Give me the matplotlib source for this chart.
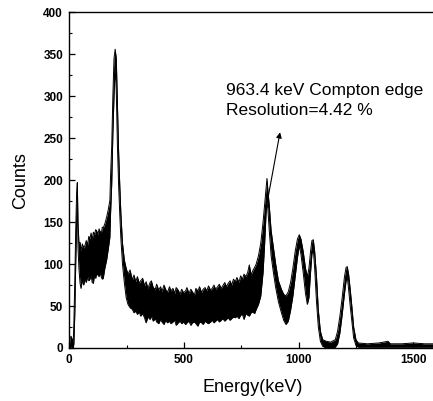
import matplotlib
matplotlib.use("Agg")
matplotlib.rcParams.update({
    'font.family': ['Liberation Sans', 'DejaVu Sans'],
    'xtick.direction': 'in',
    'ytick.direction': 'in',
})
import matplotlib.pyplot as plt
from matplotlib.ticker import MultipleLocator

# Gamma spectrum read off the picture as a noisy band: for each energy the
# lower and upper edge of the black trace (counts).
energy_kev = [
    0, 3, 8, 13, 17, 20, 24, 28, 32, 35, 38, 42, 47, 51, 57, 63, 68, 74, 80, 85,
    90, 95, 100, 105, 110, 115, 119, 125, 130, 134, 140, 144, 148, 155, 163, 170,
    177, 180, 185, 190, 195, 200, 205, 210, 215, 220, 225, 232, 240, 248, 256, 265,
    275, 282, 290, 297, 305, 311, 320, 328, 335, 343, 352, 358, 366, 375, 381, 390,
    398, 404, 413, 420, 428, 437, 443, 452, 460, 466, 475, 483, 490, 498, 507, 513,
    522, 530, 537, 546, 552, 561, 568, 577, 584, 592, 600, 607, 616, 623, 631, 638,
    647, 654, 662, 669, 678, 685, 693, 701, 708, 716, 724, 731, 740, 747, 755, 762,
    770, 778, 785, 793, 800, 808, 815, 825, 835, 845, 852, 858, 862, 866, 872, 880,
    890, 900, 912, 925, 935, 945, 955, 965, 975, 985, 995, 1003, 1010, 1020, 1030,
    1038, 1045, 1052, 1058, 1064, 1070, 1078, 1086, 1095, 1105, 1120, 1140, 1160,
    1170, 1180, 1190, 1200, 1207, 1212, 1218, 1225, 1232, 1240, 1250, 1260, 1300,
    1350, 1390, 1400, 1450, 1500, 1550, 1600,
]
counts_high = [
    0, 12, 14, 10, 5, 30, 80, 140, 185, 197, 150, 125, 126, 116, 124, 119, 122, 128, 123, 133,
    130, 137, 129, 138, 135, 141, 140, 135, 142, 139, 137, 144, 143, 148, 156, 165,
    176, 205, 240, 300, 345, 356, 345, 290, 235, 195, 160, 125, 105, 95, 88, 93,
    81, 87, 79, 85, 77, 80, 83, 74, 79, 71, 78, 80, 72, 70, 76, 69,
    73, 67, 75, 70, 66, 73, 68, 71, 65, 72, 69, 64, 70, 66, 68, 72,
    65, 70, 67, 63, 71, 68, 73, 66, 70, 72, 68, 74, 69, 71, 75, 70,
    73, 76, 71, 74, 78, 73, 77, 80, 75, 82, 79, 84, 78, 86, 82, 88,
    85, 90, 99, 87, 92, 96, 100, 110, 125, 150, 172, 190, 202, 188, 170, 140,
    120, 100, 80, 70, 64, 62, 67, 78, 95, 115, 130, 135, 130, 115, 95,
    85, 95, 115, 128, 129, 115, 85, 45, 20, 10, 8, 7, 10,
    20, 38, 60, 85, 96, 97, 88, 70, 50, 25, 10, 6, 5,
    6, 8, 5, 5, 6, 5, 5,
]
counts_low = [
    0, 0, 2, 0, 0, 5, 40, 100, 150, 175, 120, 95, 77, 71, 81, 75, 82, 78, 85, 80,
    82, 86, 78, 77, 87, 83, 88, 87, 85, 90, 84, 82, 83, 95, 105, 118,
    132, 160, 195, 255, 300, 335, 305, 240, 195, 160, 130, 100, 78, 60, 52, 48,
    46, 42, 44, 40, 43, 38, 41, 36, 30, 37, 34, 38, 32, 35, 31, 29,
    34, 31, 28, 33, 30, 32, 29, 31, 33, 27, 30, 32, 29, 31, 28, 30,
    32, 27, 30, 31, 29, 26, 31, 30, 28, 32, 30, 29, 31, 33, 30, 32,
    34, 31, 33, 35, 32, 34, 36, 33, 35, 37, 36, 38, 35, 39, 40, 34,
    41, 39, 38, 42, 43, 41, 46, 52, 62, 90, 125, 160, 175, 165, 140, 110,
    90, 72, 55, 42, 33, 28, 32, 45, 62, 85, 108, 122, 112, 90, 65,
    52, 60, 90, 112, 118, 95, 55, 25, 8, 2, 0, 0, 1,
    5, 18, 40, 65, 80, 85, 70, 50, 32, 12, 3, 1, 1,
    1, 1, 1, 1, 1, 1, 1,
]

x_ticks = [0, 500, 1000, 1500]
y_ticks = [0, 50, 100, 150, 200, 250, 300, 350, 400]
label_lines = ["963.4 keV Compton edge", "Resolution=4.42 %"]

fig = plt.figure(figsize=(4.33, 4.01), dpi=100)
ax = fig.add_axes([0.160, 0.1322, 0.8474, 0.8372])

ax.fill_between(energy_kev, counts_low, counts_high, color='black', linewidth=0)
ax.plot(energy_kev, counts_high, color='black', linewidth=0.7)
ax.plot(energy_kev, counts_low, color='black', linewidth=0.7)

ax.set_xlim(0, 1600)
ax.set_ylim(0, 400)
ax.set_xticks(x_ticks)
ax.set_yticks(y_ticks)
ax.xaxis.set_minor_locator(MultipleLocator(250))
ax.yaxis.set_minor_locator(MultipleLocator(25))
ax.tick_params(which='major', length=4, width=0.9, labelsize=8.5, pad=4.5)
ax.tick_params(which='minor', length=2.5, width=0.8)
for lab in ax.get_xticklabels() + ax.get_yticklabels():
    lab.set_fontweight('bold')
for sp in ax.spines.values():
    sp.set_linewidth(1.0)

ax.set_xlabel('Energy(keV)', fontsize=13, labelpad=9)
ax.set_ylabel('Counts', fontsize=13, labelpad=10)

ax.annotate('', xy=(919, 257), xytext=(868, 181),
            arrowprops=dict(arrowstyle='-|>', color='black', lw=0.8,
                            mutation_scale=8, shrinkA=0, shrinkB=0))
ax.text(683, 316, "\n".join(label_lines), ha='left', va='top', fontsize=12.5,
        linespacing=1.45)

fig.savefig('out.png', dpi=100)
